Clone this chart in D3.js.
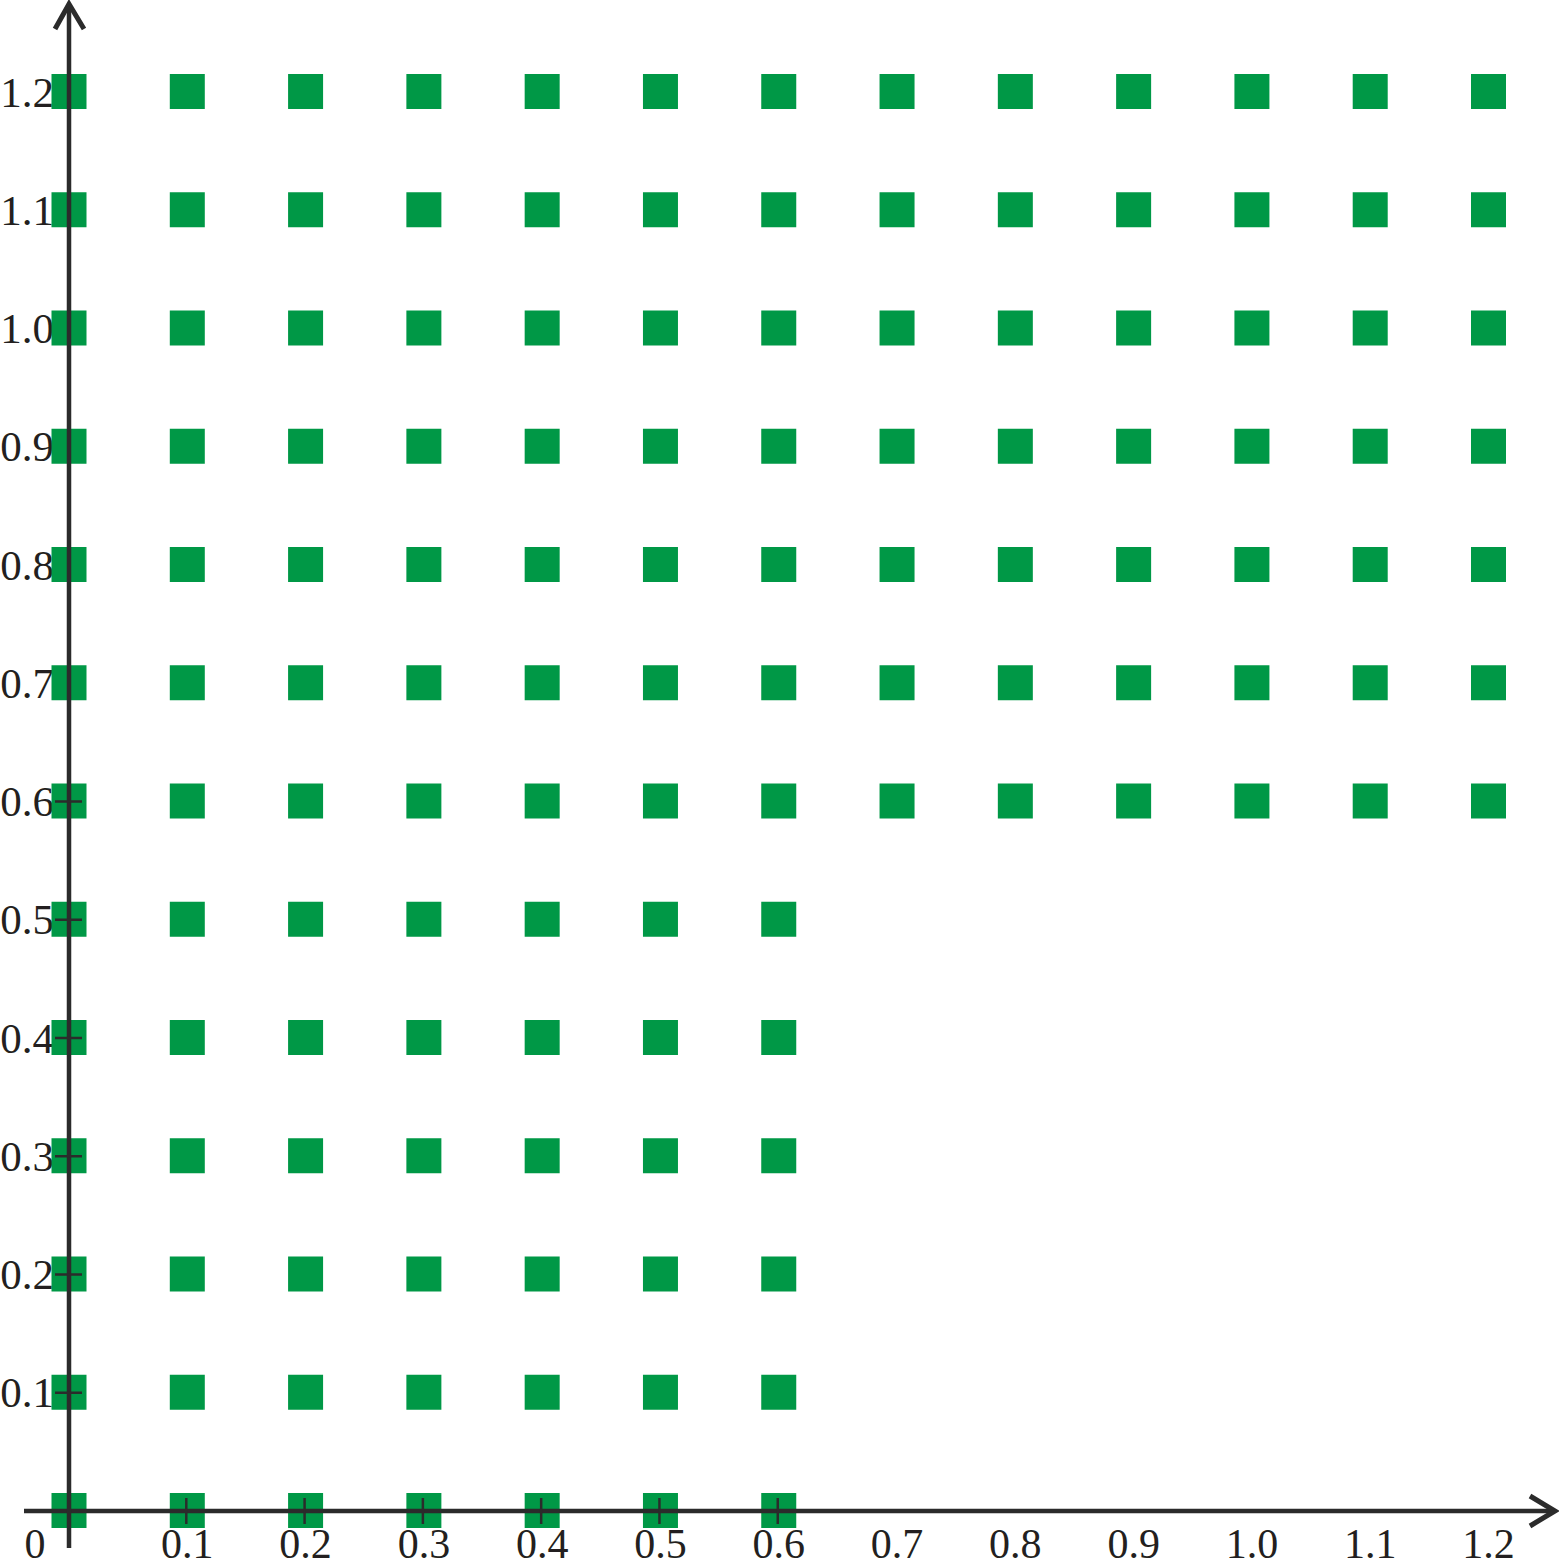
<!DOCTYPE html>
<html>
<head>
<meta charset="utf-8">
<script src="https://cdn.jsdelivr.net/npm/d3@7"></script>
<style>
  html, body { margin: 0; padding: 0; background: #fff; }
  svg { display: block; }
</style>
</head>
<body>
<svg id="chart" width="1559" height="1560"></svg>
<script>
// ---- data ----
const xTickLabels = ["0.1","0.2","0.3","0.4","0.5","0.6","0.7","0.8","0.9","1.0","1.1","1.2"];
const yTickLabels = ["0.1","0.2","0.3","0.4","0.5","0.6","0.7","0.8","0.9","1.0","1.1","1.2"];
const xTickValues = [0.1,0.2,0.3,0.4,0.5,0.6,0.7,0.8,0.9,1.0,1.1,1.2];
const yTickValues = [0.1,0.2,0.3,0.4,0.5,0.6,0.7,0.8,0.9,1.0,1.1,1.2];
const xTickMarks = [0.1,0.2,0.3,0.4,0.5,0.6];
const yTickMarks = [0.1,0.2,0.3,0.4,0.5,0.6];
// lower block: rows 0..0.5, columns 0..0.6
const lowerRows = [0,0.1,0.2,0.3,0.4,0.5];
const lowerCols = [0,0.1,0.2,0.3,0.4,0.5,0.6];
// upper block: rows 0.6..1.2, columns 0..1.2
const upperRows = [0.6,0.7,0.8,0.9,1.0,1.1,1.2];
const upperCols = [0,0.1,0.2,0.3,0.4,0.5,0.6,0.7,0.8,0.9,1.0,1.1,1.2];

const points = [];
lowerRows.forEach(y => lowerCols.forEach(x => points.push({x, y})));
upperRows.forEach(y => upperCols.forEach(x => points.push({x, y})));

// ---- scales ----
const x = d3.scaleLinear().domain([0, 1.2]).range([69, 1488.5]);
const y = d3.scaleLinear().domain([0, 1.2]).range([1510.5, 91.5]);

const svg = d3.select("#chart");
const GREEN = "#009846";
const AXIS = "#2b2b2b";
const SQ = 35;
const FS = 43;
const FSX = 42;
const font = "'Liberation Serif', 'Times New Roman', serif";

// labels (drawn first so squares overlap them)
svg.append("g").selectAll("text").data(xTickValues).join("text")
  .attr("x", d => x(d)).attr("y", 1558)
  .attr("text-anchor", "middle")
  .attr("font-family", font).attr("font-size", FSX).attr("fill", "#231f20")
  .text((d, i) => xTickLabels[i]);

svg.append("g").selectAll("text").data(yTickValues).join("text")
  .attr("x", 54).attr("y", d => y(d) + 15)
  .attr("text-anchor", "end")
  .attr("font-family", font).attr("font-size", FS).attr("fill", "#231f20")
  .text((d, i) => yTickLabels[i]);

svg.append("text")
  .attr("x", 35).attr("y", 1558).attr("text-anchor", "middle")
  .attr("font-family", font).attr("font-size", FSX).attr("fill", "#231f20")
  .text("0");

// squares
svg.append("g").selectAll("rect").data(points).join("rect")
  .attr("x", d => x(d.x) - SQ / 2)
  .attr("y", d => y(d.y) - SQ / 2)
  .attr("width", SQ).attr("height", SQ)
  .attr("fill", GREEN);

// axes
const axisY0 = y(0) + 0.5;
const axisX0 = x(0);
svg.append("line")
  .attr("x1", 24).attr("x2", 1553).attr("y1", axisY0).attr("y2", axisY0)
  .attr("stroke", AXIS).attr("stroke-width", 4.5);
svg.append("line")
  .attr("x1", axisX0).attr("x2", axisX0).attr("y1", 5).attr("y2", 1548)
  .attr("stroke", AXIS).attr("stroke-width", 4.5);

// arrowheads
svg.append("path")
  .attr("d", `M${axisX0 - 14},29 L${axisX0},4 L${axisX0 + 15},29`)
  .attr("fill", "none").attr("stroke", AXIS).attr("stroke-width", 5)
  .attr("stroke-linejoin", "miter");
svg.append("path")
  .attr("d", `M1530,${axisY0 - 15} L1555,${axisY0} L1530,${axisY0 + 15}`)
  .attr("fill", "none").attr("stroke", AXIS).attr("stroke-width", 5)
  .attr("stroke-linejoin", "miter");

// tick marks
svg.append("g").selectAll("line").data(xTickMarks).join("line")
  .attr("x1", d => x(d) - 1).attr("x2", d => x(d) - 1)
  .attr("y1", axisY0 - 13).attr("y2", axisY0 + 13)
  .attr("stroke", AXIS).attr("stroke-width", 2.5);
svg.append("g").selectAll("line").data(yTickMarks).join("line")
  .attr("x1", axisX0 - 14).attr("x2", axisX0 + 13)
  .attr("y1", d => y(d) + 0.5).attr("y2", d => y(d) + 0.5)
  .attr("stroke", AXIS).attr("stroke-width", 2.5);
</script>
</body>
</html>
